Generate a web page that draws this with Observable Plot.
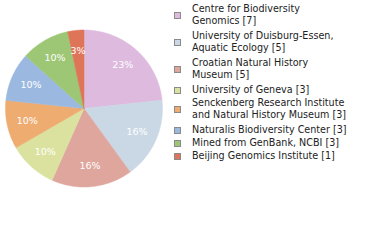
<!DOCTYPE html>
<html>
<head>
<meta charset="utf-8">
<script src="https://cdn.jsdelivr.net/npm/d3@7"></script>
<script src="https://cdn.jsdelivr.net/npm/@observablehq/plot@0.6"></script>
<style>
  body { margin: 0; background: #fff; }
  #wrap { position: relative; width: 380px; height: 240px; overflow: hidden; }
  #legend { position: absolute; left: 174px; top: 3px; font-family: "DejaVu Sans", sans-serif; font-size: 9.6px; color: #222; }
  .item { display: flex; align-items: center; }
  .sw { width: 5px; height: 5px; border: 1px solid #8a8a8a; margin-right: 11px; flex: none; }
  .txt { line-height: 12.4px; white-space: pre; }
</style>
</head>
<body>
<div id="wrap"></div>
<script>
const names = [
  "Centre for Biodiversity\nGenomics",
  "University of Duisburg-Essen,\nAquatic Ecology",
  "Croatian Natural History\nMuseum",
  "University of Geneva",
  "Senckenberg Research Institute\nand Natural History Museum",
  "Naturalis Biodiversity Center",
  "Mined from GenBank, NCBI",
  "Beijing Genomics Institute"
];
const counts = [7, 5, 5, 3, 3, 3, 3, 1];
const colors = ["#ddbade", "#cad8e6", "#dfa69d", "#dbe2a0", "#eeac70", "#9bb9e0", "#9dc675", "#df7558"];

const rows = names.map((name, i) => ({name, count: counts[i]}));
const total = d3.sum(counts);
const R = 78.5, LR = 58;
const arcs = d3.pie().sort(null).value(d => d.count)(rows);

const pts = [];
for (const a of arcs) {
  const n = Math.max(4, Math.ceil((a.endAngle - a.startAngle) / (Math.PI / 180)));
  pts.push({name: a.data.name, x: 0, y: 0});
  for (let k = 0; k <= n; k++) {
    const t = a.startAngle + (a.endAngle - a.startAngle) * k / n;
    pts.push({name: a.data.name, x: R * Math.sin(t), y: -R * Math.cos(t)});
  }
  pts.push({name: a.data.name, x: 0, y: 0});
}
const labels = arcs.map(a => {
  const m = (a.startAngle + a.endAngle) / 2;
  return {x: LR * Math.sin(m), y: -LR * Math.cos(m), text: Math.floor(a.data.count / total * 100) + "%"};
});

const chart = Plot.plot({
  width: 380, height: 240,
  margin: 0,
  x: {domain: [-83.5, 296.5], range: [0, 380], axis: null},
  y: {domain: [-108, 132], range: [0, 240], axis: null},
  color: {domain: names, range: colors},
  style: {fontFamily: "DejaVu Sans, sans-serif", background: "white"},
  marks: [
    Plot.line(pts, {x: "x", y: "y", z: "name", fill: "name", stroke: "name", strokeWidth: 0.5, curve: "linear"}),
    Plot.text(labels, {x: "x", y: "y", text: "text", fill: "white", fontSize: 9.5, dy: 0})
  ]
});
document.getElementById("wrap").appendChild(chart);

const leg = document.createElement("div");
leg.id = "legend";
rows.forEach((r, i) => {
  const lines = r.name.split("\n").length;
  const it = document.createElement("div");
  it.className = "item";
  it.style.marginBottom = (lines > 1 ? 2.2 : 0.6) + "px";
  const sw = document.createElement("div");
  sw.className = "sw";
  sw.style.background = colors[i];
  const tx = document.createElement("div");
  tx.className = "txt";
  tx.textContent = r.name + " [" + r.count + "]";
  it.appendChild(sw); it.appendChild(tx);
  leg.appendChild(it);
});
document.getElementById("wrap").appendChild(leg);
</script>
</body>
</html>
